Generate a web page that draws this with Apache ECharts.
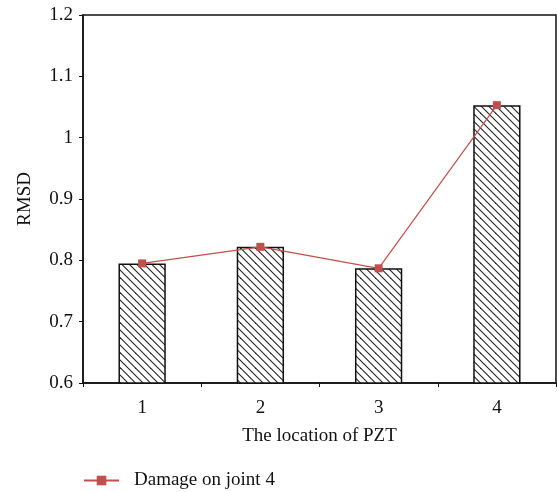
<!DOCTYPE html>
<html><head><meta charset="utf-8">
<script src="https://cdn.jsdelivr.net/npm/echarts@6/dist/echarts.min.js"></script>
<style>html,body{margin:0;padding:0;background:#fff}#c{width:557px;height:492px}</style>
</head><body><div id="c"></div>
<script>
const categories = ['1', '2', '3', '4'];
const barValues = [0.795, 0.822, 0.787, 1.053];
const lineValues = [0.795, 0.822, 0.787, 1.053];
const seriesName = 'Damage on joint 4';
const xAxisName = 'The location of PZT';
const yAxisName = 'RMSD';
const yMin = 0.6, yMax = 1.2, yStep = 0.1;

const FONT = 'Liberation Serif';
const FS = 19;
const RED = '#c0504d';

// hatch pattern "\\\\"
const tile = document.createElement('canvas');
tile.width = 15; tile.height = 15;
const ctx = tile.getContext('2d');
ctx.fillStyle = '#fff';
ctx.fillRect(0, 0, 15, 15);
ctx.strokeStyle = '#222';
ctx.lineWidth = 1.1;
for (let k = -3; k <= 3; k++) {
  const off = k * 7.5;
  ctx.beginPath();
  ctx.moveTo(off - 2, -2);
  ctx.lineTo(off + 17, 17);
  ctx.stroke();
}

const chart = echarts.init(document.getElementById('c'), null, {renderer: 'canvas'});
chart.setOption({
  animation: false,
  backgroundColor: '#fff',
  grid: {left: 83, right: 1, top: 15, bottom: 109, show: true, borderColor: '#111', borderWidth: 1.5, backgroundColor: 'transparent'},
  legend: {
    data: [seriesName], left: 78, top: 466, itemWidth: 35, itemHeight: 12,
    textStyle: {fontFamily: FONT, fontSize: FS, color: '#111', padding: [0, 0, 0, 10]}
  },
  xAxis: {
    type: 'category', data: categories,
    name: xAxisName, nameLocation: 'middle', nameGap: 44,
    nameTextStyle: {fontFamily: FONT, fontSize: FS, color: '#111'},
    axisLine: {lineStyle: {color: '#111', width: 1.5}},
    axisTick: {show: true, length: 4, inside: false, lineStyle: {color: '#111', width: 1}},
    axisLabel: {fontFamily: FONT, fontSize: FS, color: '#111', margin: 16},
    splitLine: {show: false}
  },
  yAxis: {
    type: 'value', min: yMin, max: yMax, interval: yStep,
    name: yAxisName, nameLocation: 'middle', nameGap: 48, nameRotate: 90,
    nameTextStyle: {fontFamily: FONT, fontSize: FS, color: '#111'},
    axisLine: {show: true, lineStyle: {color: '#111', width: 1.5}},
    axisTick: {show: true, length: 4, inside: false, lineStyle: {color: '#111', width: 1}},
    axisLabel: {fontFamily: FONT, fontSize: FS, color: '#111', margin: 10,
      formatter: v => String(Math.round(v * 10) / 10)},
    splitLine: {show: false}
  },
  series: [
    {
      type: 'bar', name: 'bars', data: barValues, barWidth: '40%',
      itemStyle: {color: {image: tile, repeat: 'repeat'}, borderColor: '#111', borderWidth: 1.5},
      z: 2
    },
    {
      type: 'line', name: seriesName, data: lineValues,
      symbol: 'rect', symbolSize: 8, showAllSymbol: true,
      lineStyle: {color: RED, width: 1.2},
      itemStyle: {color: RED},
      z: 5
    }
  ]
});
</script>
</body></html>
